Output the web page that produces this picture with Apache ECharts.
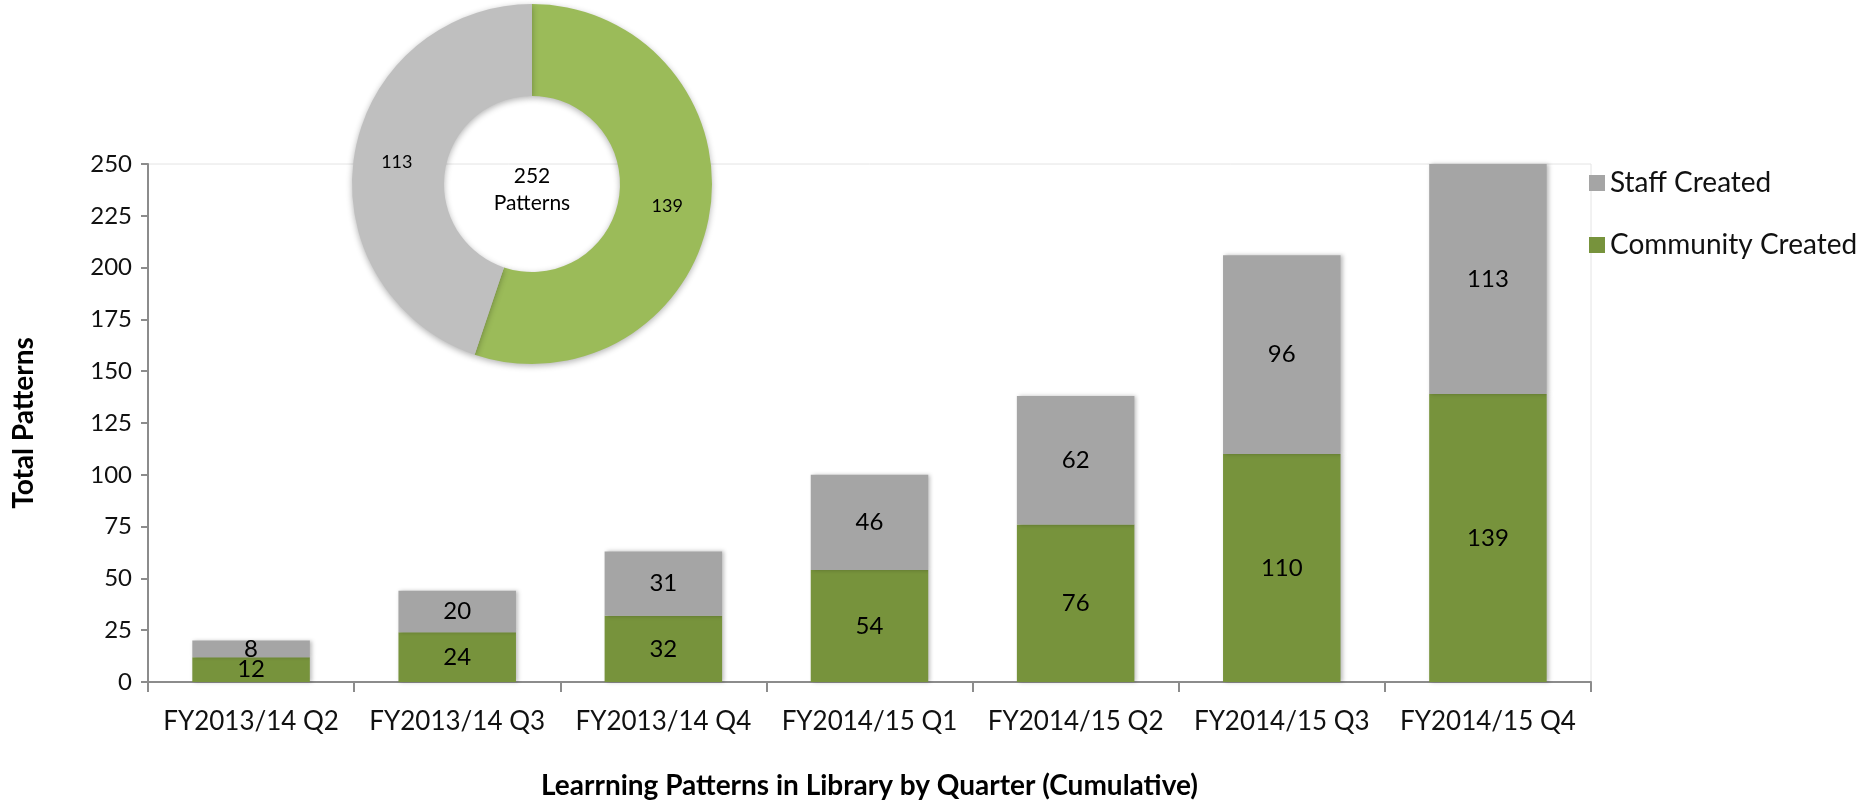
<!DOCTYPE html>
<html>
<head>
<meta charset="utf-8">
<script src="https://cdn.jsdelivr.net/npm/echarts@6/dist/echarts.min.js"></script>
<style>
  html, body { margin: 0; padding: 0; background: #fff; }
  #chart { width: 1875px; height: 805px; }
</style>
</head>
<body>
<div id="chart"></div>
<script>
// data
var categories = ['FY2013/14 Q2', 'FY2013/14 Q3', 'FY2013/14 Q4', 'FY2014/15 Q1', 'FY2014/15 Q2', 'FY2014/15 Q3', 'FY2014/15 Q4']
var community = [12, 24, 32, 54, 76, 110, 139]
var staff = [8, 20, 31, 46, 62, 96, 113]
var pieNames = ['Community Created', 'Staff Created']
var pieValues = [139, 113]
var yTicks = [0, 25, 50, 75, 100, 125, 150, 175, 200, 225, 250]

var font = 'Lato'
var total = pieValues.reduce(function (a, b) { return a + b }, 0)

var chart = echarts.init(document.getElementById('chart'))

var option = {
  backgroundColor: '#fff',
  textStyle: { fontFamily: font, color: '#000' },
  animation: false,
  grid: {
    left: 148,
    right: 284,
    top: 164,
    bottom: 120,
    show: true,
    borderColor: '#e4e4e4',
    borderWidth: 1
  },
  legend: {
    orient: 'vertical',
    left: 1584,
    top: 164,
    itemWidth: 16,
    itemHeight: 16,
    itemGap: 34,
    icon: 'rect',
    data: ['Staff Created', 'Community Created'],
    textStyle: { fontFamily: font, fontSize: 28, color: '#111' }
  },
  xAxis: {
    type: 'category',
    data: categories,
    name: 'Learrning Patterns in Library by Quarter (Cumulative)',
    nameLocation: 'middle',
    nameGap: 90,
    nameTextStyle: { fontFamily: font, fontSize: 28, fontWeight: 'bold', color: '#000' },
    axisLine: { lineStyle: { color: '#8c8c8c', width: 2 } },
    axisTick: { show: true, length: 10, lineStyle: { color: '#8c8c8c', width: 2 } },
    axisLabel: { interval: 0, margin: 27, fontSize: 26, color: '#111' }
  },
  yAxis: {
    type: 'value',
    min: yTicks[0],
    max: yTicks[yTicks.length - 1],
    interval: 25,
    name: 'Total Patterns',
    nameLocation: 'middle',
    nameGap: 110,
    nameTextStyle: { fontFamily: font, fontSize: 28, fontWeight: 'bold', color: '#000' },
    axisLine: { show: true, lineStyle: { color: '#8c8c8c', width: 2 } },
    axisTick: { show: true, length: 7, lineStyle: { color: '#8c8c8c', width: 2 } },
    axisLabel: { margin: 16, fontSize: 24, color: '#111' },
    splitLine: { show: false }
  },
  series: [
    {
      name: 'Community Created',
      type: 'bar',
      stack: 'total',
      barWidth: '57%',
      data: community,
      itemStyle: { color: '#77933c', shadowColor: 'rgba(0,0,0,0.25)', shadowBlur: 4, shadowOffsetX: 2 },
      label: { show: true, position: 'inside', fontSize: 24, color: '#000', fontFamily: font }
    },
    {
      name: 'Staff Created',
      type: 'bar',
      stack: 'total',
      barWidth: '57%',
      data: staff,
      itemStyle: { color: '#a5a5a5', shadowColor: 'rgba(0,0,0,0.25)', shadowBlur: 4, shadowOffsetX: 2 },
      label: { show: true, position: 'inside', fontSize: 24, color: '#000', fontFamily: font }
    },
    {
      name: 'Library',
      type: 'pie',
      center: [532, 184],
      radius: [88, 180],
      startAngle: 90,
      clockwise: true,
      z: 5,
      label: { show: true, position: 'inside', formatter: '{c}', fontSize: 18, color: '#000', fontFamily: font },
      labelLine: { show: false },
      itemStyle: { shadowColor: 'rgba(0,0,0,0.3)', shadowBlur: 6, shadowOffsetY: 2 },
      data: pieNames.map(function (n, i) {
        return {
          name: n,
          value: pieValues[i],
          itemStyle: { color: i === 0 ? '#9bbb59' : '#bfbfbf' }
        }
      })
    }
  ],
  graphic: [
    {
      type: 'text',
      x: 532,
      y: 190,
      z: 10,
      style: {
        text: total + '\nPatterns',
        align: 'center',
        verticalAlign: 'middle',
        fontFamily: font,
        fontSize: 21,
        lineHeight: 27,
        fill: '#000'
      }
    }
  ]
}

chart.setOption(option)
</script>
</body>
</html>
